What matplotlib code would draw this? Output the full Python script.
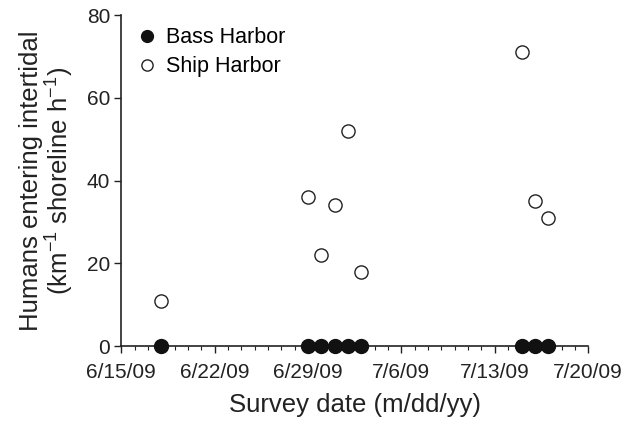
import matplotlib
matplotlib.use('Agg')
import matplotlib.pyplot as plt
import matplotlib.dates as mdates
import numpy as np
import pandas as pd

plt.rcParams['font.family'] = ['Liberation Sans', 'DejaVu Sans']
plt.rcParams['mathtext.fontset'] = 'custom'
plt.rcParams['mathtext.rm'] = 'Liberation Sans'
plt.rcParams['mathtext.it'] = 'Liberation Sans:italic'

# survey dates and rates (humans km^-1 shoreline h^-1)
dates = ['2009-06-18', '2009-06-29', '2009-06-30', '2009-07-01', '2009-07-02',
         '2009-07-03', '2009-07-15', '2009-07-16', '2009-07-17']
bass_harbor = [0, 0, 0, 0, 0, 0, 0, 0, 0]
ship_harbor = [11, 36, 22, 34, 52, 18, 71, 35, 31]
tick_dates = ['2009-06-15', '2009-06-22', '2009-06-29', '2009-07-06',
              '2009-07-13', '2009-07-20']
tick_labels = ['6/15/09', '6/22/09', '6/29/09', '7/6/09', '7/13/09', '7/20/09']

if __name__ == '__main__':
    x = pd.to_datetime(dates)
    fig = plt.figure(figsize=(6.38, 4.22), dpi=100)
    ax = fig.add_axes([0.19, 0.18, 0.732, 0.784])

    ax.plot(x, ship_harbor, 'o', ms=9.5, mfc='white', mec='#222222', mew=1.0,
            label='Ship Harbor', clip_on=False, zorder=3)
    ax.plot(x, bass_harbor, 'o', ms=10, mfc='#111111', mec='#111111', mew=1.0,
            label='Bass Harbor', clip_on=False, zorder=4)

    ax.set_xlim(pd.Timestamp(tick_dates[0]), pd.Timestamp(tick_dates[-1]))
    ax.set_ylim(0, 80)
    ax.set_yticks([0, 20, 40, 60, 80])
    ax.set_xticks(pd.to_datetime(tick_dates))
    ax.set_xticklabels(tick_labels)
    ax.xaxis.set_minor_locator(mdates.DayLocator())

    for s in ['top', 'right']:
        ax.spines[s].set_visible(False)
    for s in ['left', 'bottom']:
        ax.spines[s].set_linewidth(1.2)
        ax.spines[s].set_color('#222222')
    ax.tick_params(axis='both', which='major', labelsize=15, length=5,
                   width=1.0, color='#222222', labelcolor='#222222', pad=3)
    ax.tick_params(axis='x', which='major', pad=7)
    ax.tick_params(axis='x', which='minor', length=3, width=0.8, color='#222222')

    ax.set_xlabel('Survey date (m/dd/yy)', fontsize=18.5, color='#222222', labelpad=8)
    ax.set_ylabel('Humans entering intertidal\n(km$^{-1}$ shoreline h$^{-1}$)',
                  fontsize=18.5, color='#222222', labelpad=8, linespacing=1.0)

    handles, labels = ax.get_legend_handles_labels()
    ax.legend(handles[::-1], labels[::-1], loc='upper left', frameon=False,
              fontsize=15.5, handletextpad=0.1, borderaxespad=0.0,
              bbox_to_anchor=(0.0, 0.99), labelspacing=0.38, markerscale=0.85,
              handlelength=1.6)

    plt.savefig('out.png', dpi=100)
